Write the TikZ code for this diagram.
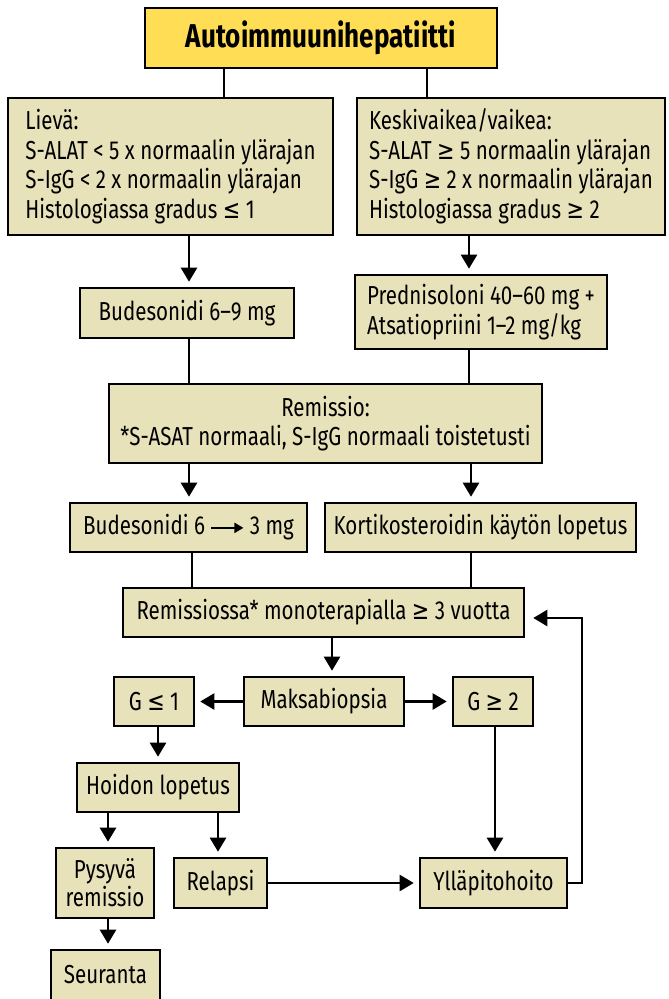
\documentclass[tikz,border=0pt]{standalone}
\usepackage{fontspec}
\setmainfont{Fira Sans}[FakeStretch=0.79]
\newfontfamily\symf{DejaVu Sans}[FakeStretch=0.8]
\newcommand{\myle}{{\symf ≤}}
\newcommand{\myge}{{\symf ≥}}
\usetikzlibrary{arrows.meta}
\definecolor{boxfill}{HTML}{E8E2BB}
\definecolor{titlefill}{HTML}{FFDD55}
\begin{document}
\begin{tikzpicture}[x=1pt,y=-1pt,
  box/.style={draw, line width=2.6pt, fill=boxfill, inner sep=0pt, align=center,
    font=\fontsize{26}{29.5}\selectfont},
  titlebox/.style={box, fill=titlefill, font=\fontsize{33}{36}\selectfont\bfseries},
  conn/.style={line width=2.4pt},
  arr/.style={line width=2.4pt, -{Triangle[length=14pt,width=16pt]}, shorten >=5pt}]
\useasboundingbox (0,0) rectangle (669,999);
% nodes
\node[titlebox, minimum width=352pt, minimum height=60pt] (title) at (321,38) {Autoimmuunihepatiitti};
\node[box, minimum width=325pt, minimum height=137pt, align=left] (lieva) at (170.5,166.5)
  {Lievä:\\S-ALAT < 5 x normaalin ylärajan\\S-IgG < 2 x normaalin ylärajan\\Histologiassa gradus \myle{} 1};
\node[box, minimum width=308pt, minimum height=137pt, align=left] (keski) at (511,166.5)
  {Keskivaikea/vaikea:\\S-ALAT \myge{} 5 normaalin ylärajan\\S-IgG \myge{} 2 x normaalin ylärajan\\Histologiassa gradus \myge{} 2};
\node[box, minimum width=214pt, minimum height=50pt] (bud) at (187,313) {Budesonidi 6–9 mg};
\node[box, minimum width=252pt, minimum height=74pt, align=left] (pred) at (481,312)
  {Prednisoloni 40–60 mg +\\Atsatiopriini 1–2 mg/kg};
\node[box, minimum width=433pt, minimum height=79pt] (rem) at (325.5,423.5)
  {Remissio:\\*S-ASAT normaali, S-IgG normaali toistetusti};
\node[box, minimum width=237pt, minimum height=49pt] (bud2) at (188.5,527.5)
  {Budesonidi 6 \tikz[baseline=-7pt]\draw[line width=2pt,-{Triangle[length=9pt,width=10pt]}] (0pt,0pt) -- (32pt,0pt); 3 mg};
\node[box, minimum width=311pt, minimum height=49pt] (kort) at (480.5,527.5)
  {Kortikosteroidin käytön lopetus};
\node[box, minimum width=401pt, minimum height=49pt] (remmono) at (323.5,612.5)
  {Remissiossa* monoterapialla \myge{} 3 vuotta};
\node[box, minimum width=160pt, minimum height=49pt] (maksa) at (324,701.5) {Maksabiopsia};
\node[box, minimum width=80pt, minimum height=49pt] (gle) at (154,701.5) {G \myle{} 1};
\node[box, minimum width=80pt, minimum height=49pt] (gge) at (493,701.5) {G \myge{} 2};
\node[box, minimum width=162pt, minimum height=49pt] (hoidon) at (158,787.5) {Hoidon lopetus};
\node[box, minimum width=98pt, minimum height=70pt, font=\fontsize{26}{28}\selectfont] (pysyva) at (105,883) {Pysyvä\\remissio};
\node[box, minimum width=93pt, minimum height=50pt] (relapsi) at (220.5,883) {Relapsi};
\node[box, minimum width=147pt, minimum height=50pt] (yllapito) at (493.5,883) {Ylläpitohoito};
\node[box, minimum width=109pt, minimum height=50pt] (seuranta) at (105.5,975) {Seuranta};
% helper coordinates
\coordinate (xa) at (224,0);
\coordinate (xb) at (427,0);
\coordinate (xc) at (189,0);
\coordinate (xd) at (469,0);
\coordinate (xe) at (192,0);
\coordinate (xf) at (471,0);
\coordinate (xg) at (332,0);
\coordinate (xh) at (158,0);
\coordinate (xi) at (108,0);
\coordinate (xj) at (218,0);
\coordinate (xk) at (495,0);
\coordinate (fbx) at (582,0);
\coordinate (fby) at (0,618);
% connectors
\draw[conn] (title.south -| xa) -- (lieva.north -| xa);
\draw[conn] (title.south -| xb) -- (keski.north -| xb);
\draw[arr] (lieva.south -| xc) -- (bud.north -| xc);
\draw[arr] (keski.south -| xd) -- (pred.north -| xd);
\draw[conn] (bud.south -| xc) -- (rem.north -| xc);
\draw[conn] (pred.south -| xd) -- (rem.north -| xd);
\draw[arr] (rem.south -| xc) -- (bud2.north -| xc);
\draw[arr] (rem.south -| xf) -- (kort.north -| xf);
\draw[conn] (bud2.south -| xe) -- (remmono.north -| xe);
\draw[conn] (kort.south -| xf) -- (remmono.north -| xf);
\draw[arr] (remmono.south -| xg) -- (maksa.north -| xg);
\draw[arr] (maksa.west) -- (gle.east);
\draw[arr] (maksa.east) -- (gge.west);
\draw[arr] (gle.south -| xh) -- (hoidon.north -| xh);
\draw[arr] (hoidon.south -| xi) -- (pysyva.north -| xi);
\draw[arr] (hoidon.south -| xj) -- (relapsi.north -| xj);
\draw[arr] (pysyva.south -| xi) -- (seuranta.north -| xi);
\draw[arr] (relapsi.east) -- (yllapito.west);
\draw[arr] (gge.south -| xk) -- (yllapito.north -| xk);
\draw[arr, shorten >=8pt] (yllapito.east) -- (yllapito.east -| fbx) |- (remmono.east |- fby);
\end{tikzpicture}
\end{document}
